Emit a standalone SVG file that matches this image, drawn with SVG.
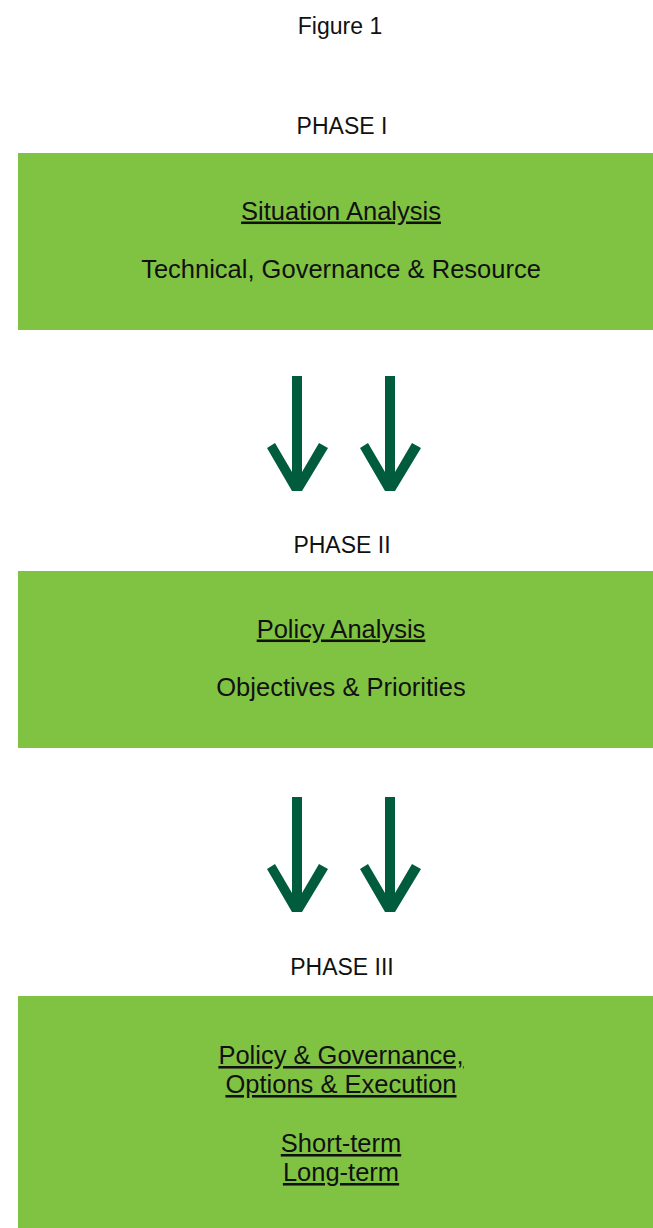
<svg xmlns="http://www.w3.org/2000/svg" width="653" height="1228" viewBox="0 0 653 1228">
  <defs>
    <style>
      .cap { font-family: "Liberation Sans", Arial, sans-serif; font-size: 23px; fill: #111; text-anchor: middle; }
      .txt { font-family: "Liberation Sans", Arial, sans-serif; font-size: 25.5px; fill: #111; text-anchor: middle; }
      .ul { text-decoration: underline; }
      .box { fill: #80C343; }
      .arrow { fill: #005C3C; }
    </style>
    <!-- down arrow: shaft with chevron head, centred on x=0, top at y=0 -->
    <polygon id="down" class="arrow" points="-30,72 -22,67 -5,96 -5,0 5,0 5,96 22,67 31,72 5,115 -5,115"/>
  </defs>

  <rect width="653" height="1228" fill="#ffffff"/>

  <text class="cap" x="340" y="34">Figure 1</text>

  <g id="phase1">
    <text class="cap" x="342" y="134">PHASE I</text>
    <rect class="box" x="18" y="153" width="635" height="177"/>
    <text class="txt ul" x="341" y="219.5">Situation Analysis</text>
    <text class="txt" x="341" y="278">Technical, Governance &amp; Resource</text>
  </g>

  <g id="phase2">
    <text class="cap" x="342" y="553">PHASE II</text>
    <rect class="box" x="18" y="571" width="635" height="177"/>
    <text class="txt ul" x="341" y="637.5">Policy Analysis</text>
    <text class="txt" x="341" y="696">Objectives &amp; Priorities</text>
  </g>

  <g id="phase3">
    <text class="cap" x="342" y="975">PHASE III</text>
    <rect class="box" x="18" y="996" width="635" height="232"/>
    <text class="txt ul" x="341" y="1064">Policy &amp; Governance,</text>
    <text class="txt ul" x="341" y="1093">Options &amp; Execution</text>
    <text class="txt ul" x="341" y="1152">Short-term</text>
    <text class="txt ul" x="341" y="1181">Long-term</text>
  </g>

  <g id="connectors">
    <use href="#down" x="297" y="376"/>
    <use href="#down" x="390" y="376"/>
    <use href="#down" x="297" y="797"/>
    <use href="#down" x="390" y="797"/>
  </g>
</svg>
